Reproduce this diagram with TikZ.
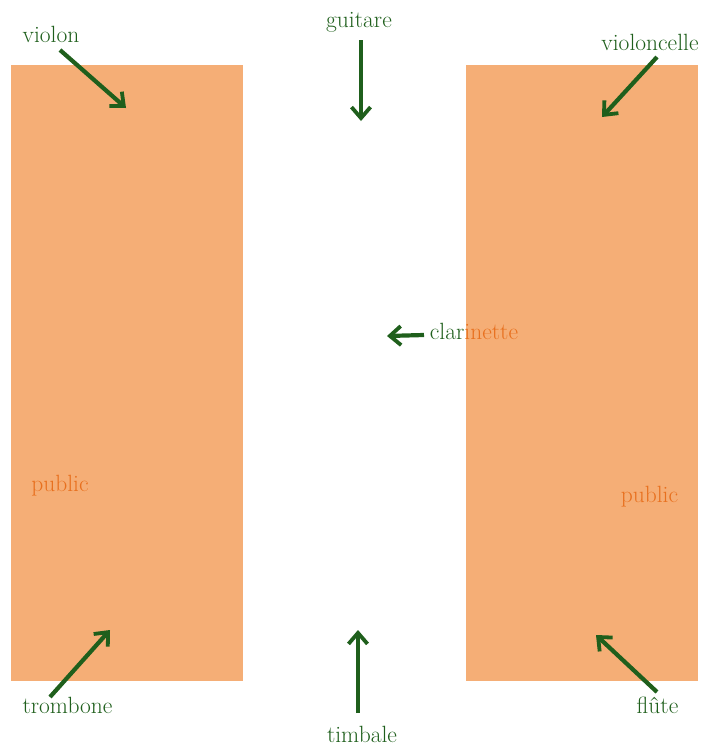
\documentclass[tikz,border=0pt]{standalone}
\usetikzlibrary{arrows.meta}
\definecolor{zone}{HTML}{F5AE76}
\definecolor{instr}{HTML}{1F5F1C}
\definecolor{pubtxt}{HTML}{E8701E}
\begin{document}
\begin{tikzpicture}[x=1pt,y=-1pt,
  lbl/.style={anchor=base,inner sep=0pt,text=instr,font=\fontsize{23.5}{27}\selectfont},
  publbl/.style={anchor=base,inner sep=0pt,text=pubtxt,font=\fontsize{23.5}{27}\selectfont},
  zonebox/.style={fill=zone,draw=none},
  pointer/.style={draw=instr,line width=4.2pt,-{Straight Barb[length=11pt,width=19pt,line width=3.8pt]}}]
\useasboundingbox (0,0) rectangle (702,753);
% audience areas
\path[zonebox] (11,65) rectangle (243,681);
\path[zonebox] (466,65) rectangle (698,681);
% labels
\node[lbl] (violon) at (51,42) {violon};
\node[lbl] (guitare) at (359,27) {guitare};
\node[lbl] (violoncelle) at (650,50) {violoncelle};
\node[lbl] (clarinette) at (474,339) {clar\textcolor{pubtxt}{inette}};
\node[publbl] (publicL) at (60,491) {public};
\node[publbl] (publicR) at (649.5,502) {public};
\node[lbl] (trombone) at (67.5,713) {trombone};
\node[lbl] (timbale) at (362,742) {timbale};
\node[lbl] (flute) at (657.5,713) {fl\^ute};
% arrow ends
\coordinate (violonS) at (60,50);   \coordinate (violonT) at (126,108);
\coordinate (guitareS) at (361,40); \coordinate (guitareT) at (361,121);
\coordinate (vcS) at (657,57);      \coordinate (vcT) at (602,117);
\coordinate (clarS) at (424,335);   \coordinate (clarT) at (387,336);
\coordinate (tromS) at (50,697);    \coordinate (tromT) at (110,630);
\coordinate (timbS) at (358,713);   \coordinate (timbT) at (358,630);
\coordinate (fluteS) at (657,692);  \coordinate (fluteT) at (596,635);
% arrows
\draw[pointer] (violonS) -- (violonT);
\draw[pointer] (guitareS) -- (guitareT);
\draw[pointer] (vcS) -- (vcT);
\draw[pointer] (clarS) -- (clarT);
\draw[pointer] (tromS) -- (tromT);
\draw[pointer] (timbS) -- (timbT);
\draw[pointer] (fluteS) -- (fluteT);
\end{tikzpicture}
\end{document}
